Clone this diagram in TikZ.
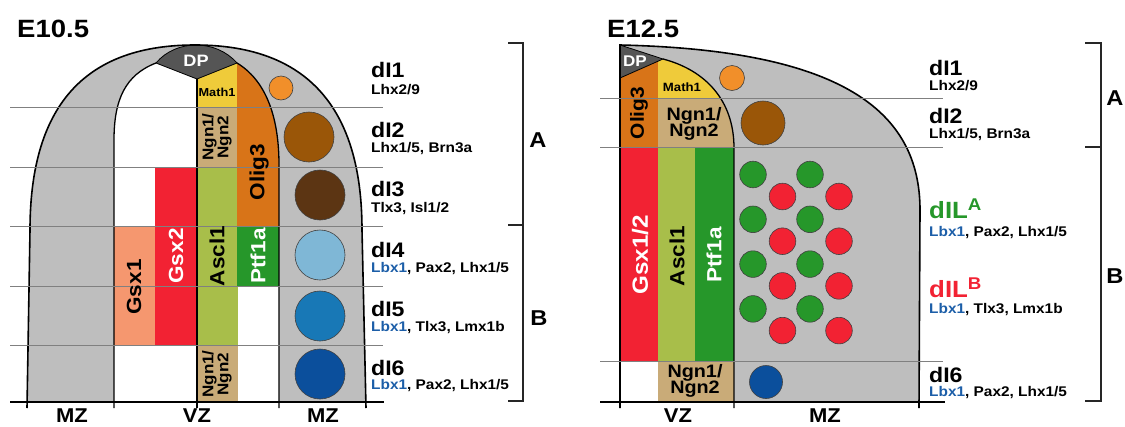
\documentclass[tikz,border=0pt]{standalone}
\usepackage{fontspec}
\setmainfont{Liberation Sans}[FakeStretch=1.1]
\usepackage{tikz}

\definecolor{mzgray}{HTML}{BEBEBE}
\definecolor{dpgray}{HTML}{555555}
\definecolor{mathyel}{HTML}{EFCB3A}
\definecolor{ngntan}{HTML}{C9AB78}
\definecolor{oligor}{HTML}{D87418}
\definecolor{asclgr}{HTML}{A8BE4A}
\definecolor{ptfgr}{HTML}{26972A}
\definecolor{gsxred}{HTML}{F22233}
\definecolor{gsxsal}{HTML}{F5976F}
\definecolor{lbxblue}{HTML}{1C5EA8}
\definecolor{dIone}{HTML}{F18F2A}
\definecolor{dItwo}{HTML}{9A5608}
\definecolor{dIthree}{HTML}{5C3513}
\definecolor{dIfour}{HTML}{7FB7D6}
\definecolor{dIfive}{HTML}{1878B6}
\definecolor{dIsix}{HTML}{0B4F9C}

\begin{document}
\begin{tikzpicture}[x=1pt,y=-1pt,
  stage/.style={font=\fontsize{25}{25}\selectfont\bfseries, inner sep=0, anchor=base west},
  cls/.style={font=\fontsize{21}{21}\selectfont\bfseries, inner sep=0, anchor=base west},
  clsbig/.style={font=\fontsize{23.5}{23.5}\selectfont\bfseries, inner sep=0, anchor=base west},
  tf/.style={font=\fontsize{14}{14}\selectfont\bfseries, inner sep=0, anchor=base west},
  gene/.style={font=\fontsize{20.5}{20.5}\selectfont\bfseries, inner sep=0, rotate=90},
  zone/.style={font=\fontsize{20}{20}\selectfont\bfseries, inner sep=0, anchor=base},
  grp/.style={font=\fontsize{21.5}{21.5}\selectfont\bfseries, inner sep=0, anchor=base},
  block/.style={draw=black!45, line width=0.5pt},
  cell/.style={draw=black!75, line width=0.6pt},
  band/.style={draw=black!50, line width=0.9pt},
  floorline/.style={draw=black, line width=2pt},
  wall/.style={draw=black, line width=1.6pt},
  inner/.style={draw=black, line width=1.3pt},
  brace/.style={draw=black!85, line width=2pt}]

\useasboundingbox (0,0) rectangle (1125,426);

% ---------------- E10.5 ----------------
\node[stage] (e105) at (17,37) {E10.5};

% Tissue
\fill[mzgray] (27,402) -- (30,230) .. controls (30,100) and (90,45) .. (195,45)
  .. controls (300,45) and (362,100) .. (362,230) -- (366,402) -- cycle;

% Ventricular zone
\begin{scope}
  \clip (114,402) -- (114,140) .. controls (114,100) and (125,75) .. (156,63) -- (197,79) -- (237,63)
    .. controls (265,80) and (279,115) .. (279,165) -- (279,402) -- cycle;
  \fill[white] (100,40) rectangle (300,402);
  \fill[block, gsxsal] (114,226) rectangle (155,345);
  \fill[block, gsxred] (155,167) rectangle (197,345);
  \fill[block, mathyel] (197,40) rectangle (237,107);
  \fill[block, ngntan] (197,107) rectangle (237,167);
  \fill[block, asclgr] (197,167) rectangle (237,345);
  \fill[block, ngntan] (197,345) rectangle (237,402);
  \fill[block, oligor] (237,40) rectangle (290,226);
  \fill[block, ptfgr] (237,226) rectangle (279,286);
\end{scope}

% Roof plate
\filldraw[dpgray, draw=black, line width=0.8pt] (156,63) .. controls (176,39) and (216,39) .. (237,63) -- (197,79) -- cycle;

% Outlines
\draw[wall] (27,408) -- (30,230) .. controls (30,100) and (90,45) .. (195,45)
  .. controls (300,45) and (362,100) .. (362,230) -- (366,408);
\draw[inner] (114,408) -- (114,140) .. controls (114,100) and (125,75) .. (156,63);
\draw[inner] (237,63) .. controls (265,80) and (279,115) .. (279,165) -- (279,408);
\draw[inner] (197,79) -- (197,408);

% Neurons
\draw[cell, fill=dIone] (281,88) circle (12pt);
\foreach \x/\y/\c in {309/137/dItwo, 320/195/dIthree, 320/255/dIfour, 320/316/dIfive, 320/374/dIsix}
  \draw[cell, fill=\c] (\x,\y) circle (25pt);

% Domains
\foreach \y in {107,167,226,286,345}
  \draw[band] (10,\y) -- (383,\y);
\draw[floorline] (10,402) -- (384,402);

% Gene labels
\node[font=\fontsize{16.5}{16.5}\selectfont\bfseries, text=white, inner sep=0] (dpa) at (196,61) {DP};
\node[font=\fontsize{11.6}{11.6}\selectfont\bfseries, inner sep=0] (matha) at (217,92) {Math1};
\node[gene, font=\fontsize{15.5}{15}\selectfont\bfseries, align=center] (ngna) at (217,137) {Ngn1/\\Ngn2};
\node[gene] (oliga) at (259,172) {Olig3};
\node[gene] (gsxa) at (134,287) {Gsx1};
\node[gene, text=white] (gsxb) at (176,256) {Gsx2};
\node[gene] (ascla) at (217,256) {Ascl1};
\node[gene, text=white] (ptfa) at (258,256) {Ptf1a};
\node[gene, font=\fontsize{15.5}{15}\selectfont\bfseries, align=center] (ngnb) at (217,374) {Ngn1/\\Ngn2};

% Zones
\node[zone] (mza) at (72,422) {MZ};
\node[zone] (vza) at (197,422) {VZ};
\node[zone] (mzb) at (323,422) {MZ};

% Classes
\node[cls] (dia) at (371,77) {dI1};
\node[tf] (tfa) at (371,94) {Lhx2/9};
\node[cls] (dib) at (371,137) {dI2};
\node[tf] (tfb) at (371,152) {Lhx1/5, Brn3a};
\node[cls] (dic) at (371,196) {dI3};
\node[tf] (tfc) at (371,212) {Tlx3, Isl1/2};
\node[cls] (did) at (371,257) {dI4};
\node[tf] (tfd) at (371,272) {{\color{lbxblue}Lbx1}, Pax2, Lhx1/5};
\node[cls] (die) at (371,316) {dI5};
\node[tf] (tfe) at (371,331) {{\color{lbxblue}Lbx1}, Tlx3, Lmx1b};
\node[cls] (dif) at (371,375) {dI6};
\node[tf] (tff) at (371,389) {{\color{lbxblue}Lbx1}, Pax2, Lhx1/5};

% Groups
\draw[brace] (508,43) -- (523,43) -- (523,401) -- (508,401);
\draw[brace] (508,225) -- (523,225);
\node[grp] (ga) at (538,147) {A};
\node[grp] (gb) at (539,325) {B};

% ---------------- E12.5 ----------------
\node[stage] (e125) at (607,37) {E12.5};

% Tissue
\fill[mzgray] (620,402) -- (620,45) .. controls (840,50) and (920,110) .. (920,210) -- (919,402) -- cycle;

% Ventricular zone
\begin{scope}
  \clip (620,78) -- (663,59) .. controls (705,70) and (734,100) .. (734,148) -- (734,402) -- (620,402) -- cycle;
  \fill[white] (610,40) rectangle (740,402);
  \fill[block, oligor] (620,40) rectangle (658,148);
  \fill[block, mathyel] (658,40) rectangle (740,98);
  \fill[block, ngntan] (658,98) rectangle (740,148);
  \fill[block, gsxred] (620,148) rectangle (658,361);
  \fill[block, asclgr] (658,148) rectangle (695,361);
  \fill[block, ptfgr] (695,148) rectangle (734,361);
  \fill[block, ngntan] (658,361) rectangle (734,402);
\end{scope}

% Roof plate
\filldraw[dpgray, draw=black, line width=0.8pt] (620,45) -- (663,59) -- (620,78) -- cycle;

% Outlines
\draw[wall] (620,408) -- (620,45) .. controls (840,50) and (920,110) .. (920,210) -- (919,408);
\draw[inner] (663,59) .. controls (705,70) and (734,100) .. (734,148) -- (734,408);

% Neurons
\draw[cell, fill=dIone] (732,78) circle (12.5pt);
\draw[cell, fill=dItwo] (763,123) circle (22pt);
\foreach \k in {0,...,3} {
  \draw[cell, fill=ptfgr] (753,174.5+44.8*\k) circle (13.3pt);
  \draw[cell, fill=ptfgr] (810,174.5+44.8*\k) circle (13.3pt);
  \draw[cell, fill=gsxred] (782.5,196.5+44.7*\k) circle (13.3pt);
  \draw[cell, fill=gsxred] (839,196.5+44.7*\k) circle (13.3pt);
}
\draw[cell, fill=dIsix] (766,382) circle (16.5pt);

% Domains
\foreach \y in {98,147,361}
  \draw[band] (600,\y) -- (943,\y);
\draw[floorline] (600,402) -- (945,402);

% Gene labels
\node[font=\fontsize{15.5}{15.5}\selectfont\bfseries, text=white, inner sep=0] (dpb) at (635,61) {DP};
\node[font=\fontsize{12}{12}\selectfont\bfseries, inner sep=0] (mathb) at (682,87) {Math1};
\node[font=\fontsize{18}{16.5}\selectfont\bfseries, inner sep=0, align=center] (ngnc) at (694,124) {Ngn1/\\Ngn2};
\node[gene, font=\fontsize{19}{19}\selectfont\bfseries] (oligb) at (639,113) {Olig3};
\node[gene, font=\fontsize{22}{22}\selectfont\bfseries, text=white] (gsxc) at (640,255) {Gsx1/2};
\node[gene] (asclb) at (677,256) {Ascl1};
\node[gene, text=white] (ptfb) at (714,255) {Ptf1a};
\node[font=\fontsize{18}{16.5}\selectfont\bfseries, inner sep=0, align=center] (ngnd) at (695,381) {Ngn1/\\Ngn2};

% Zones
\node[zone] (vzb) at (678,422) {VZ};
\node[zone] (mzc) at (825,422) {MZ};

% Classes
\node[cls] (dig) at (929,75) {dI1};
\node[tf] (tfg) at (929,90) {Lhx2/9};
\node[cls] (dih) at (929,123) {dI2};
\node[tf] (tfh) at (929,138) {Lhx1/5, Brn3a};
\node[clsbig, text=ptfgr] (dila) at (929,218) {dIL\raisebox{8pt}{\fontsize{17}{17}\selectfont A}};
\node[tf] (tfi) at (929,236.5) {{\color{lbxblue}Lbx1}, Pax2, Lhx1/5};
\node[clsbig, text=gsxred] (dilb) at (929,297) {dIL\raisebox{8pt}{\fontsize{17}{17}\selectfont B}};
\node[tf] (tfj) at (929,313) {{\color{lbxblue}Lbx1}, Tlx3, Lmx1b};
\node[cls] (dik) at (929,382) {dI6};
\node[tf] (tfk) at (929,396) {{\color{lbxblue}Lbx1}, Pax2, Lhx1/5};

% Groups
\draw[brace] (1085,43) -- (1101,43) -- (1101,401) -- (1085,401);
\draw[brace] (1085,147) -- (1101,147);
\node[grp] (gc) at (1115,105) {A};
\node[grp] (gd) at (1115,283) {B};

\end{tikzpicture}
\end{document}
